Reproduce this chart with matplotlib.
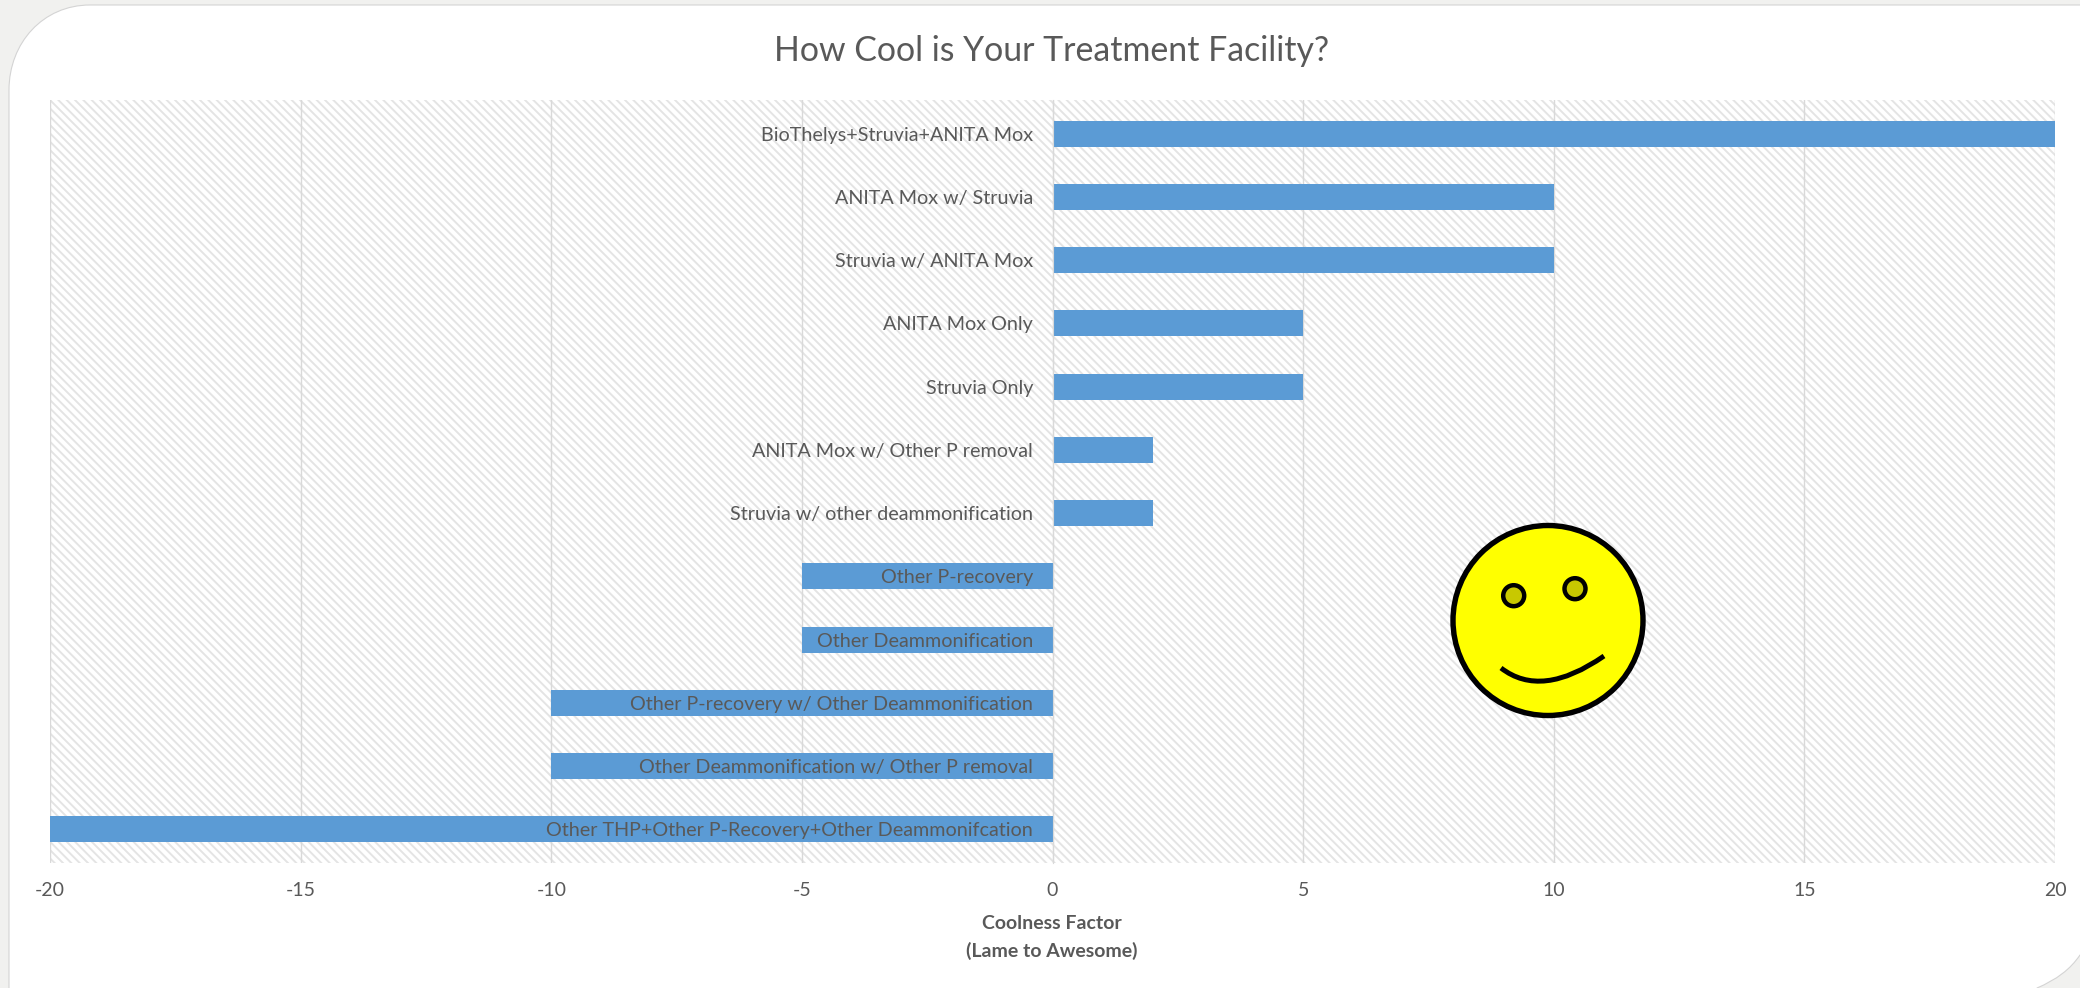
import matplotlib
matplotlib.use('Agg')
import matplotlib.pyplot as plt
from matplotlib.patches import Circle, PathPatch
from matplotlib.path import Path

plt.rcParams['font.family'] = ['Lato', 'DejaVu Sans']
plt.rcParams['hatch.linewidth'] = 1.4
plt.rcParams['axes.unicode_minus'] = False

categories = [
    'BioThelys+Struvia+ANITA Mox',
    'ANITA Mox w/ Struvia',
    'Struvia w/ ANITA Mox',
    'ANITA Mox Only',
    'Struvia Only',
    'ANITA Mox w/ Other P removal',
    'Struvia w/ other deammonification',
    'Other P-recovery',
    'Other Deammonification',
    'Other P-recovery w/ Other Deammonification',
    'Other Deammonification w/ Other P removal',
    'Other THP+Other P-Recovery+Other Deammonifcation',
]
coolness = [20, 10, 10, 5, 5, 2, 2, -5, -5, -10, -10, -20]
xticks = [-20, -15, -10, -5, 0, 5, 10, 15, 20]

W, H = 2080, 988
GREY = '#595959'

fig = plt.figure(figsize=(W / 100, H / 100), dpi=100, facecolor='#f1f1ef')

# page card behind the chart, pixel coords with y going down
bg = fig.add_axes([0, 0, 1, 1], zorder=0)
bg.set_xlim(0, W)
bg.set_ylim(H, 0)
bg.axis('off')
card = Path(
    [(9, 90), (9, 43), (43, 5), (90, 5), (W + 5, 5), (W + 5, 955),
     (W, 955), (2066, 976), (2037, H), (2037, H + 5), (9, H + 5), (9, 90)],
    [Path.MOVETO, Path.CURVE4, Path.CURVE4, Path.CURVE4, Path.LINETO, Path.LINETO,
     Path.LINETO, Path.CURVE3, Path.CURVE3, Path.LINETO, Path.LINETO, Path.CLOSEPOLY],
)
bg.add_patch(PathPatch(card, facecolor='white', edgecolor='#d4d4d4', lw=0.8))

ax = fig.add_axes([50 / W, 1 - 863 / H, 2005 / W, 763 / H], zorder=1)
ax.patch.set_facecolor('white')
ax.patch.set_edgecolor('#e4e4e4')
ax.patch.set_hatch('\\\\\\\\')
ax.patch.set_linewidth(0)

y = list(range(len(categories)))
ax.barh(y, coolness, height=0.41, color='#5b9bd5', zorder=1)
ax.set_xlim(-20, 20)
ax.set_ylim(11.53, -0.53)

ax.set_xticks(xticks)
ax.set_yticks(y)
ax.set_yticklabels(categories)
ax.grid(axis='x', color='#d9d9d9', lw=1.0)
ax.tick_params(axis='x', length=0, pad=14, labelsize=14, labelcolor=GREY)
ax.tick_params(axis='y', length=0, pad=14, labelsize=14.2, labelcolor=GREY)

for side in ['top', 'right', 'bottom']:
    ax.spines[side].set_visible(False)
ax.spines['left'].set_position(('data', 0))
ax.spines['left'].set_color('#d9d9d9')

# gridlines stay under the bars, category labels go over them
ax.xaxis.set_zorder(0.5)
ax.yaxis.set_zorder(3)

fig.text(1052 / W, 1 - 51 / H, 'How Cool is Your Treatment Facility?', ha='center',
         va='center', fontsize=24.4, color=GREY)
fig.text(1052 / W, 1 - 923 / H, 'Coolness Factor', ha='center', va='center',
         fontsize=14, fontweight='bold', color=GREY)
fig.text(1052 / W, 1 - 951 / H, '(Lame to Awesome)', ha='center', va='center',
         fontsize=14, fontweight='bold', color=GREY)

# smiley face on top of the plot
top = fig.add_axes([0, 0, 1, 1], zorder=2)
top.set_xlim(0, W)
top.set_ylim(H, 0)
top.axis('off')
top.add_patch(Circle((1548, 620.5), 95, facecolor='#ffff00', edgecolor='black', lw=3.9))
for ex, ey in [(1513.7, 595.7), (1575, 588.7)]:
    top.add_patch(Circle((ex, ey), 10.5, facecolor='#c8c800', edgecolor='black', lw=3.2))
mouth = Path([(1501, 668), (1541.5, 699.4), (1604, 656)],
             [Path.MOVETO, Path.CURVE3, Path.CURVE3])
top.add_patch(PathPatch(mouth, facecolor='none', edgecolor='black', lw=3.6, capstyle='butt'))

fig.savefig('out.png', dpi=100, facecolor=fig.get_facecolor())
